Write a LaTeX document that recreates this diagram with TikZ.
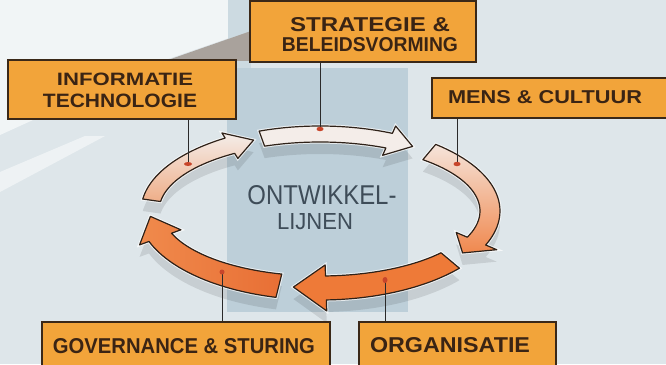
\documentclass[tikz,border=0pt]{standalone}
\usepackage{fontspec}
\setmainfont{Liberation Sans}
\usepackage{graphicx}
\definecolor{bgbase}{HTML}{DEE6EA}
\definecolor{bandc}{HTML}{BDCFD9}
\definecolor{colc}{HTML}{CCDAE1}
\definecolor{wedgec}{HTML}{A9A29C}
\definecolor{boxfill}{HTML}{F2A43A}
\definecolor{boxline}{HTML}{3A2818}
\definecolor{txt}{HTML}{3A2414}
\definecolor{ctrtxt}{HTML}{3E4C58}
\definecolor{arrline}{HTML}{2E2118}
\definecolor{connline}{HTML}{2A2A2A}
\definecolor{redm}{HTML}{C8452A}
\definecolor{paleA}{HTML}{F4EDE9}
\definecolor{paleB}{HTML}{F5E4DA}
\definecolor{salmon}{HTML}{F0884E}
\definecolor{salmonB}{HTML}{EFAE88}
\definecolor{orangeA}{HTML}{EE7A38}
\definecolor{orangeB}{HTML}{F08A4C}
\definecolor{orangeC}{HTML}{E86F35}
\tikzset{
  box/.style={draw=boxline, line width=1.3pt, fill=boxfill},
  lbl/.style={inner sep=0pt, anchor=base, text=txt, font=\bfseries},
  ctr/.style={inner sep=0pt, anchor=base, text=ctrtxt},
  conn/.style={draw=connline, line width=0.8pt},
  arr/.style={draw=arrline, line width=1.2pt, line join=round,
    preaction={draw=white, line width=3.2pt, draw opacity=.7}},
  arrshadow/.style={fill=black, fill opacity=.10, shift={(0,12)}},
  redmark/.style={fill=redm}
}
% #1 start angle, #2 head base angle, #3 tip angle, #4 half width, #5 head half width, #6 style
\newcommand\cycarrow[6]{%
  \path[#6] plot[variable=\t, domain=#1:#2, samples=30]
      ({320+(170+#4)*cos(\t)},{211+(77+#4)*sin(\t)})
    -- ({320+(170+#5)*cos(#2)},{211+(77+#5)*sin(#2)})
    -- ({320+170*cos(#3)},{211+77*sin(#3)})
    -- ({320+(170-#5)*cos(#2)},{211+(77-#5)*sin(#2)})
    -- plot[variable=\t, domain=#2:#1, samples=30]
      ({320+(170-#4)*cos(\t)},{211+(77-#4)*sin(\t)})
    -- cycle;}
\begin{document}
\begin{tikzpicture}[x=1pt, y=-1pt]
\useasboundingbox (0,0) rectangle (666,364);
\clip (0,0) rectangle (666,364);
% background
\fill[bgbase] (0,0) rectangle (666,364);
\fill[white, opacity=.6] (0,0) -- (252,0) -- (252,30) -- (165,60) -- (0,135) -- cycle;
\fill[white, opacity=.5] (0,172) -- (85,136) -- (105,136) -- (0,192) -- cycle;
\fill[colc] (228,0) rectangle (251,68);
\fill[bandc] (227,68) rectangle (408,312);
\fill[wedgec] (168,60) -- (251,31) -- (251,61) -- cycle;
% shadows
\cycarrow{250}{294}{303}{8}{16}{arrshadow}
\cycarrow{310}{383}{393}{10}{22}{arrshadow}
\cycarrow{40}{88}{99}{12}{23}{arrshadow}
\cycarrow{104}{160}{176}{12}{22}{arrshadow}
\cycarrow{188}{238}{247}{9}{15}{arrshadow}
% arrows
\cycarrow{250}{294}{303}{8}{16}{arr, fill=paleA}
\cycarrow{310}{383}{393}{10}{22}{arr, top color=paleB, bottom color=salmon}
\cycarrow{40}{88}{99}{12}{23}{arr, fill=orangeA}
\cycarrow{104}{160}{176}{12}{22}{arr, left color=orangeB, right color=orangeC}
\cycarrow{188}{238}{247}{9}{15}{arr, top color=paleA, bottom color=salmonB}
% centre text
\node[ctr] (c1) at (322,204) {\resizebox{149pt}{19pt}{ONTWIKKEL-}};
\node[ctr] (c2) at (315,229) {\resizebox{76pt}{16pt}{LIJNEN}};
% boxes
\node[box, minimum width=226pt, minimum height=61pt] (strat) at (363,31.5) {};
\node[box, minimum width=228pt, minimum height=59pt] (info) at (122,89.5) {};
\node[box, minimum width=240pt, minimum height=40pt] (mens) at (552,98) {};
\node[box, minimum width=288pt, minimum height=48pt] (gov) at (186,346) {};
\node[box, minimum width=197pt, minimum height=48pt] (org) at (457.5,346) {};
% connector ends
\coordinate (m1) at (320,129);
\coordinate (m2) at (188,164);
\coordinate (m3) at (457,164);
\coordinate (m4) at (222,272);
\coordinate (m5) at (385,280);
\draw[conn] (strat.south -| m1) -- (m1);
\draw[conn] (info.south -| m2) -- (m2);
\draw[conn] (mens.south -| m3) -- (m3);
\draw[conn] (gov.north -| m4) -- (m4);
\draw[conn] (org.north -| m5) -- (m5);
\fill[redmark] (m1) ellipse (3.5 and 2.2);
\fill[redmark] (m2) ellipse (4 and 2);
\fill[redmark] (m3) ellipse (3.5 and 2.2);
\fill[redmark] (m4) ellipse (2.5 and 2.5);
\fill[redmark] (m5) ellipse (2.5 and 3);
% box labels
\node[lbl] (s1) at (370,31) {\resizebox{160pt}{14pt}{STRATEGIE \&}};
\node[lbl] (s2) at (370,52) {\resizebox{176pt}{14pt}{BELEIDSVORMING}};
\node[lbl] (i1) at (125,85) {\resizebox{136pt}{12.5pt}{INFORMATIE}};
\node[lbl] (i2) at (120,107) {\resizebox{154pt}{13.5pt}{TECHNOLOGIE}};
\node[lbl] (n1) at (545,103) {\resizebox{194pt}{13pt}{MENS \& CULTUUR}};
\node[lbl] (g1) at (184,353) {\resizebox{262pt}{15pt}{GOVERNANCE \& STURING}};
\node[lbl] (o1) at (450,352) {\resizebox{160pt}{15pt}{ORGANISATIE}};
\end{tikzpicture}
\end{document}
